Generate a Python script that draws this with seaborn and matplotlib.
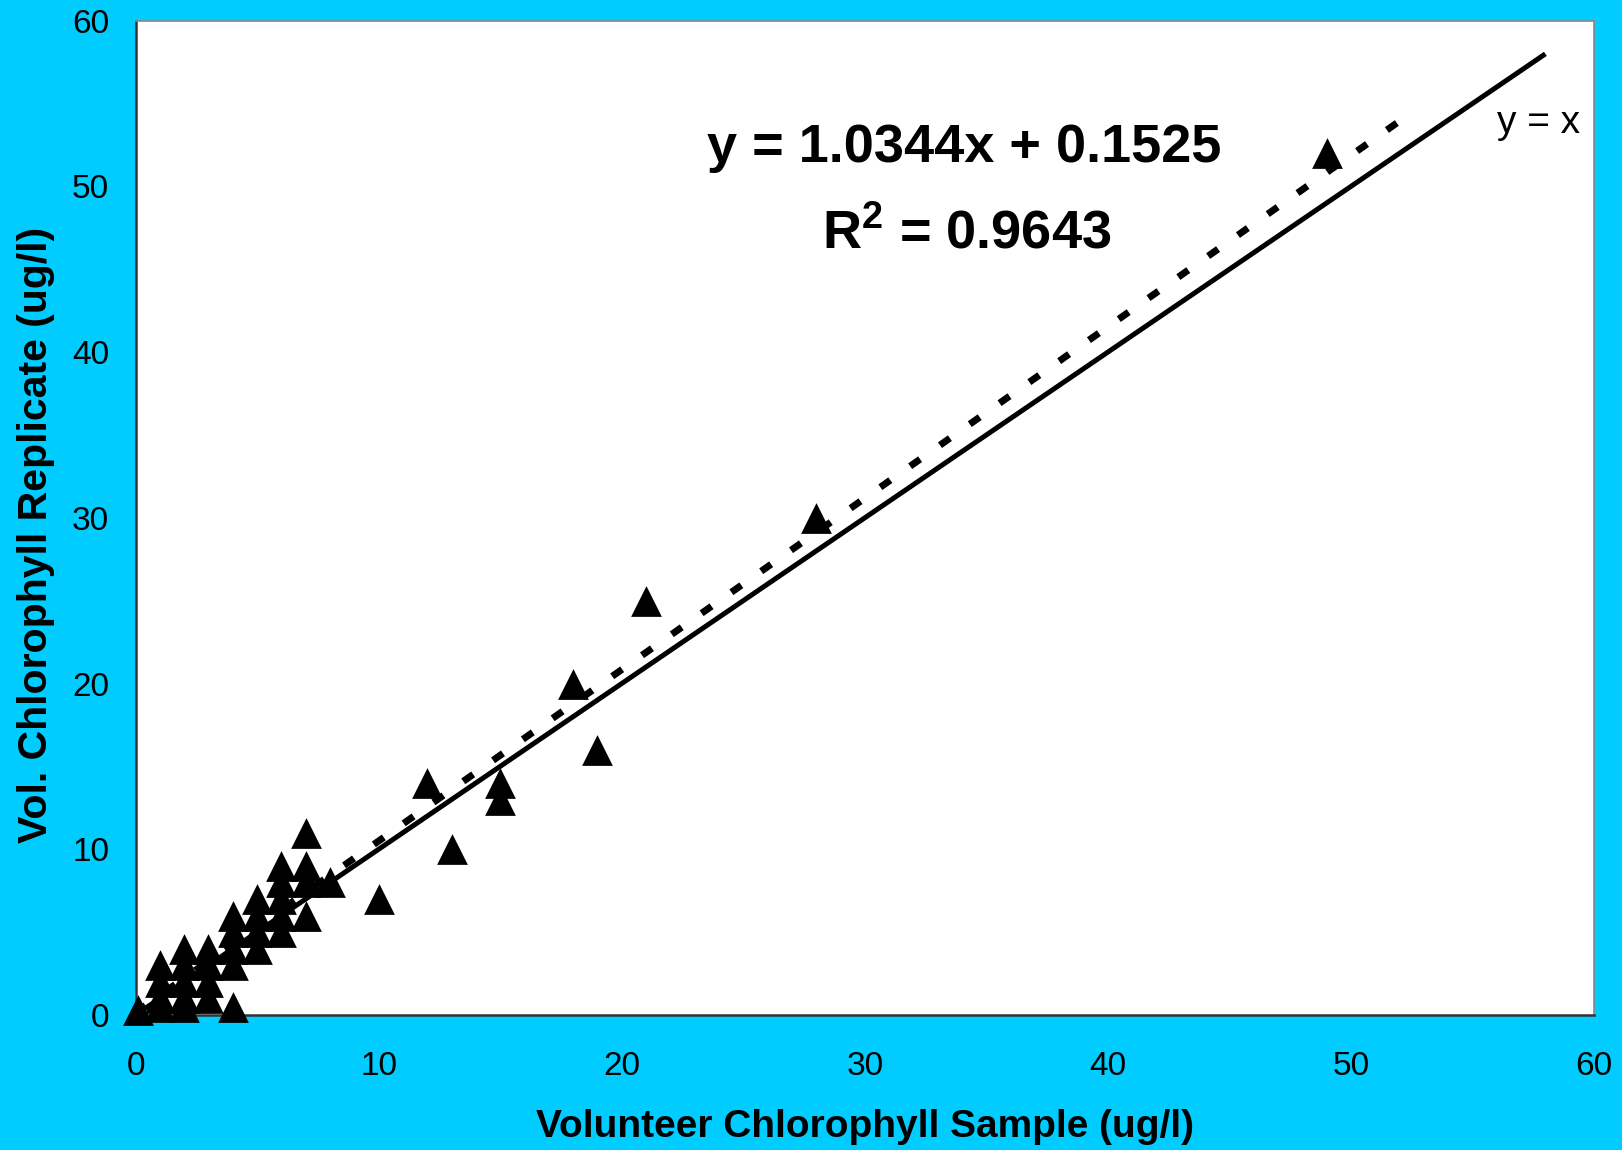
import numpy as np
import pandas as pd
import matplotlib
matplotlib.use("Agg")
import matplotlib.pyplot as plt
import seaborn as sns

# Paired chlorophyll measurements (ug/l): volunteer sample vs. replicate
sample = [0.1, 1, 1, 1, 1, 2, 2, 2, 2, 2, 3, 3, 3, 3, 4, 4, 4, 4, 4,
          5, 5, 5, 5, 6, 6, 6, 6, 6, 7, 7, 7, 7, 8, 10, 12, 13, 15, 15,
          18, 19, 21, 28, 49]
replicate = [0.3, 0.5, 1, 2, 3, 0.5, 1, 2, 3, 4, 1, 2, 3, 4, 0.5, 3, 4, 5, 6,
             4, 5, 6, 7, 5, 6, 7, 8, 9, 6, 8, 9, 11, 8, 7, 14, 10, 14, 13,
             20, 16, 25, 30, 52]

# Linear trendline reported on the chart
slope = 1.0344
intercept = 0.1525
r_squared = 0.9643
trend_x_range = [0, 52]
identity_range = [0, 58]

x_ticks = [0, 10, 20, 30, 40, 50, 60]
y_ticks = [0, 10, 20, 30, 40, 50, 60]
x_label = "Volunteer Chlorophyll Sample (ug/l)"
y_label = "Vol. Chlorophyll Replicate (ug/l)"

sns.set_style("white")
plt.rcParams["font.family"] = ["Liberation Sans", "DejaVu Sans"]
plt.rcParams["mathtext.default"] = "regular"
plt.rcParams["text.color"] = "black"

BG = "#00CCFF"
fig = plt.figure(figsize=(16.22, 11.5), dpi=100, facecolor=BG)
ax = fig.add_axes([0.08354, 0.11739, 0.89920, 0.86461])
ax.set_facecolor("white")

df = pd.DataFrame({"sample": sample, "replicate": replicate})

# identity line y = x
ident = pd.DataFrame({"x": identity_range, "y": identity_range})
sns.lineplot(data=ident, x="x", y="y", ax=ax, color="black", linewidth=3.6,
             solid_capstyle="butt")

# fitted trendline (square-dot style)
tx = np.array(trend_x_range, dtype=float)
trend = pd.DataFrame({"x": tx, "y": slope * tx + intercept})
sns.lineplot(data=trend, x="x", y="y", ax=ax, color="black", linewidth=5.0)
ax.lines[-1].set_dashes((1.75, 3.5))
ax.lines[-1].set_dash_capstyle("butt")

sns.scatterplot(data=df, x="sample", y="replicate", ax=ax, marker="^",
                s=490, color="black", linewidth=0, zorder=3, clip_on=False)

ax.set_xlim(0, 60)
ax.set_ylim(0, 60)
ax.set_xticks(x_ticks)
ax.set_yticks(y_ticks)
ax.tick_params(axis="both", direction="inout", length=16, width=1,
               color="#222222", labelsize=24, labelcolor="black")
ax.tick_params(axis="x", pad=18)
ax.tick_params(axis="y", pad=11)

for side in ["left", "bottom"]:
    ax.spines[side].set_color("#333333")
    ax.spines[side].set_linewidth(1.8)
for side in ["top", "right"]:
    ax.spines[side].set_color("#888888")
    ax.spines[side].set_linewidth(1.2)

ax.set_xlabel(x_label, fontsize=28, fontweight="bold", color="black")
ax.set_ylabel(y_label, fontsize=29.5, fontweight="bold", color="black")
ax.xaxis.set_label_coords(0.5, -0.095)
ax.yaxis.set_label_coords(-0.055, 0.483)

ax.text(34.1, 51.5, f"y = {slope:.4f}x + {intercept:.4f}", ha="center", va="baseline",
        fontsize=39, fontweight="bold", color="black")
ax.text(34.2, 46.3, f"R$^2$ = {r_squared:.4f}", ha="center", va="baseline",
        fontsize=39, fontweight="bold", color="black")
ax.text(56.0, 53.2, "y = x", ha="left", va="baseline", fontsize=28, color="black")

fig.savefig("out.png", dpi=100, facecolor=BG)
